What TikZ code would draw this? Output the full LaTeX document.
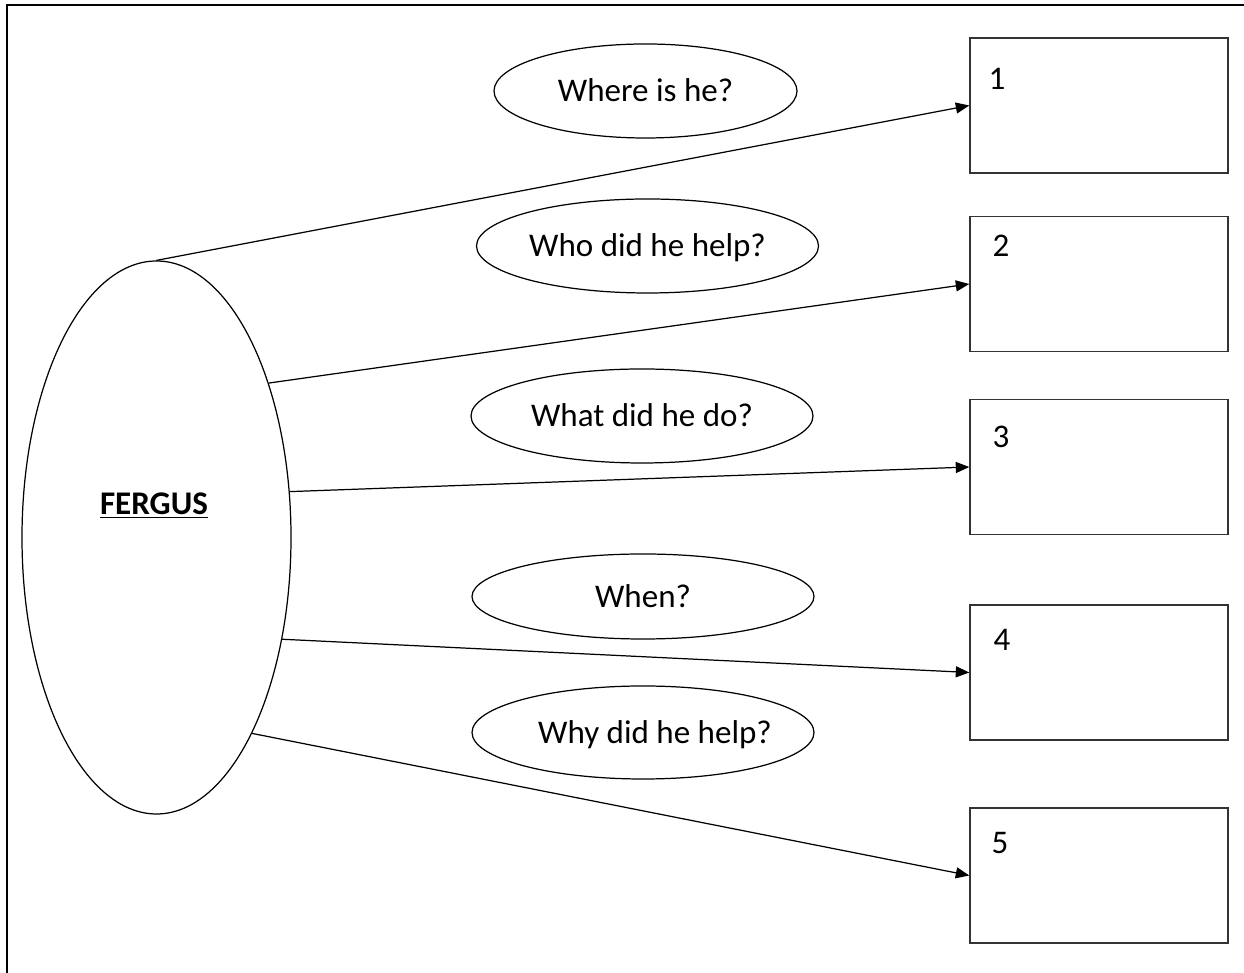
\documentclass[tikz,border=0pt]{standalone}
\usepackage{fontspec}
\setmainfont{Carlito}
\usepackage{tikz}
\usetikzlibrary{arrows.meta}
\usetikzlibrary{shapes.geometric}

\begin{document}
\begin{tikzpicture}
\tikzstyle{every node}=[font=\fontsize{18.8}{22}\selectfont, text height=0.43cm, text depth=0cm]
\tikzstyle{question}=[draw, ellipse, line width=0.7pt, inner sep=0pt, minimum width=6.84cm, minimum height=1.88cm]
\tikzstyle{answer}=[draw=black!80, line width=0.8pt, minimum width=5.16cm, minimum height=2.7cm]
\tikzstyle{link}=[->, >={Stealth[length=2.7mm,width=2.2mm,inset=0pt]}, line width=0.7pt]
\useasboundingbox (0,0) rectangle (24.88,19.46);
\draw [line width=1.2pt] (0.14,0) -- (0.14,19.36) -- (24.88,19.36);
\node [draw, ellipse, line width=0.7pt, minimum width=5.38cm, minimum height=11.06cm] (fergus) at (3.13,8.71) {};
\node [font=\fontsize{18.8}{22}\selectfont\bfseries] (name) at (3.08,9.39) {\underline{FERGUS}};
\node [question, minimum width=6.06cm] (where) at (12.91,17.64) {Where is he?};
\node [question] (who) at (12.95,14.54) {Who did he help?};
\node [question] (what) at (12.84,11.14) {What did he do?};
\node [question, minimum height=1.7cm] (when) at (12.86,7.53) {When?};
\node [question, minimum height=1.86cm] (why) at (12.86,4.81) {\makebox[0pt]{\hspace{0.48cm}Why did he help?}};
\node [answer] (box1) at (21.98,17.35) {};
\node [answer] (box2) at (21.98,13.78) {};
\node [answer] (box3) at (21.98,10.12) {};
\node [answer] (box4) at (21.98,6.01) {};
\node [answer] (box5) at (21.98,1.95) {};
\node (n1) at (19.94,17.88) {1};
\node (n2) at (20.02,14.54) {2};
\node (n3) at (20.02,10.72) {3};
\node (n4) at (20.04,6.66) {4};
\node (n5) at (20.0,2.6) {5};
\draw [link] (fergus.north) -- (box1.west);
\draw [link] (fergus.54) -- (box2.west);
\draw [link] (fergus.19) -- (box3.west);
\draw [link] (fergus.-39) -- (box4.west);
\draw [link] (fergus.-64) -- (box5.west);
\end{tikzpicture}
\end{document}
